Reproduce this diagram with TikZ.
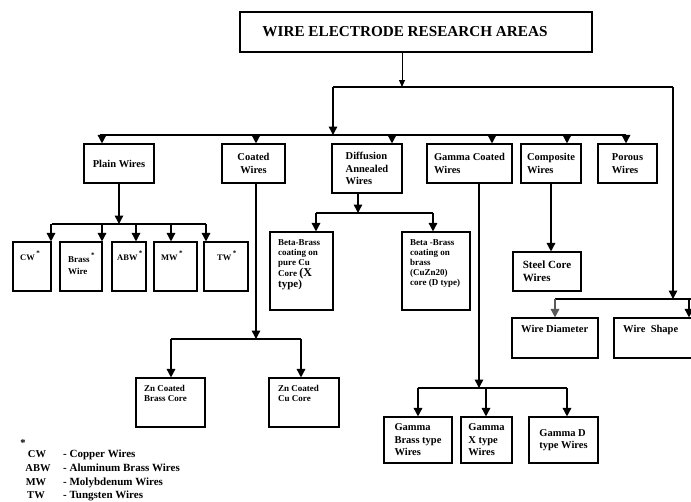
\documentclass[tikz,border=0pt]{standalone}
\usepackage{fontspec}
\setmainfont{Liberation Serif}
\usetikzlibrary{arrows.meta}
\definecolor{arrow-grey}{HTML}{5A5A5A}

\newcommand{\wstar}{\smash{\raisebox{5pt}{\fontsize{7}{7}\selectfont *}}}

\begin{document}
\begin{tikzpicture}[x=1pt, y=-1pt,
    box/.style={draw, line width=1.1pt, align=left, inner sep=0pt, font=\bfseries\fontsize{10.5}{12.5}\selectfont},
    txt/.style={anchor=north west, inner sep=0pt, align=left, font=\bfseries\fontsize{9}{10}\selectfont},
    key/.style={anchor=base, inner sep=0pt, font=\bfseries\fontsize{10.5}{12}\selectfont},
    conn/.style={line width=1.5pt},
    arr/.style={line width=1.5pt, -{Triangle[width=8.5pt,length=8.5pt]}}]
    \useasboundingbox (0,0) rectangle (691,501);

    % top
    \node[box, minimum width=352pt, minimum height=40pt, font=\bfseries\fontsize{15.2}{17}\selectfont] (areas) at (416,32) {WIRE ELECTRODE RESEARCH AREAS\hspace*{22pt}};

    % wire types
    \node[box, minimum width=70pt, minimum height=39pt] (plain) at (119,163.5) {Plain Wires};
    \node[box, minimum width=63pt, minimum height=39pt, align=center] (coated) at (253.5,163.5) {Coated\\Wires};
    \node[box, minimum width=70pt, minimum height=49pt] (diffusion) at (367,168.5) {Diffusion\\Annealed\\Wires};
    \node[box, minimum width=85pt, minimum height=39pt] (gamma) at (469.5,163.5) {Gamma Coated\\Wires};
    \node[box, minimum width=60pt, minimum height=39pt] (composite) at (551,163.5) {Composite\\Wires};
    \node[box, minimum width=59pt, minimum height=39pt] (porous) at (627.5,163.5) {Porous\\Wires};

    % plain wires
    \node[box, minimum width=38pt, minimum height=49pt] (cw) at (32,266.5) {};
    \node[box, minimum width=42pt, minimum height=49pt] (brass) at (81,266.5) {};
    \node[box, minimum width=34pt, minimum height=49pt] (abw) at (129,266.5) {};
    \node[box, minimum width=43pt, minimum height=49pt] (mw) at (175.5,266.5) {};
    \node[box, minimum width=44pt, minimum height=49pt] (tw) at (226,266.5) {};
    \node[txt, font=\bfseries\fontsize{8.5}{10}\selectfont] (cwtext) at (20,255) {CW\,\wstar};
    \node[txt, font=\bfseries\fontsize{9}{12}\selectfont] (brasstext) at (68,256) {Brass\,\wstar\\Wire};
    \node[txt, font=\bfseries\fontsize{8.5}{10}\selectfont] (abwtext) at (117,255) {ABW\,\wstar};
    \node[txt, font=\bfseries\fontsize{8.5}{10}\selectfont] (mwtext) at (161,255) {MW\,\wstar};
    \node[txt, font=\bfseries\fontsize{8.5}{10}\selectfont] (twtext) at (217,255) {TW\,\wstar};

    % diffusion annealed
    \node[box, minimum width=63pt, minimum height=78pt] (betax) at (301.5,271) {};
    \node[box, minimum width=68pt, minimum height=78pt] (betad) at (436,271) {};
    \node[txt] (betaxtext) at (278,239) {Beta-Brass\\coating on\\pure Cu\\Core {\fontsize{12}{12}\selectfont(X}\\{\fontsize{11}{12}\selectfont type)}};
    \node[txt] (betadtext) at (410,239) {Beta -Brass\\coating on\\brass\\(CuZn20)\\core (D type)};

    % coated
    \node[box, minimum width=69pt, minimum height=49pt] (znbrass) at (170.5,402.5) {};
    \node[box, minimum width=70pt, minimum height=49pt] (zncu) at (304,402.5) {};
    \node[txt] (znbrasstext) at (144,385) {Zn Coated\\Brass Core};
    \node[txt] (zncutext) at (278,385) {Zn Coated\\Cu Core};

    % composite
    \node[box, minimum width=68pt, minimum height=39pt, font=\bfseries\fontsize{11}{13}\selectfont] (steel) at (547,271.5) {Steel Core\\Wires};

    % size and shape
    \node[box, minimum width=86pt, minimum height=40pt] (diameter) at (555,338) {};
    \node[box, minimum width=96pt, minimum height=40pt] (shape) at (662,338) {};
    \node[txt, font=\bfseries\fontsize{10.5}{12}\selectfont] (diametertext) at (521,325.5) {Wire Diameter};
    \node[txt, font=\bfseries\fontsize{10.5}{12}\selectfont] (shapetext) at (623,325.5) {Wire~~Shape};

    % gamma
    \node[box, minimum width=68pt, minimum height=46pt] (gbrass) at (418,440) {Gamma\\Brass type\\Wires};
    \node[box, minimum width=51pt, minimum height=46pt] (gx) at (486.5,440) {Gamma\\X type\\Wires};
    \node[box, minimum width=69pt, minimum height=46pt] (gd) at (563.5,440) {Gamma D\\type Wires};

    % connectors
    \coordinate (top) at (402,87);
    \coordinate (topL) at (333,87);
    \coordinate (topR) at (673,87);
    \draw[line width=1pt, -{Triangle[width=6pt,length=7pt]}] (areas.south -| top) -- (top);
    \draw[conn] (topL) -- (topR);
    \draw[arr] (topL) -- (333,135);
    \draw[conn] (100,135) -- (626,135);
    \foreach \n/\x in {plain/102, coated/256, diffusion/392, gamma/492, composite/567, porous/626}
      \draw[arr] (\x,135) -- (\n.north -| \x,0);

    \draw[arr] (plain.south) -- (119,224);
    \draw[conn] (cw.east |- 0,224) -- (206,224);
    \foreach \n/\x in {cw/51, brass/102, abw/136, mw/171, tw/206}
      \draw[arr] (\x,224) -- (\n.north -| \x,0);

    \draw[arr] (diffusion.south -| 358,0) -- (358,213);
    \draw[conn] (316,213) -- (433,213);
    \draw[arr] (316,213) -- (betax.north -| 316,0);
    \draw[arr] (433,213) -- (betad.north -| 433,0);

    \draw[arr] (coated.south -| 256,0) -- (256,339);
    \draw[conn] (171,339) -- (301,339);
    \draw[arr] (171,339) -- (znbrass.north -| 171,0);
    \draw[arr] (301,339) -- (zncu.north -| 301,0);

    \draw[arr] (gamma.south -| 479,0) -- (479,388);
    \draw[conn] (418,388) -- (567,388);
    \foreach \n/\x in {gbrass/418, gx/486, gd/567}
      \draw[arr] (\x,388) -- (\n.north -| \x,0);

    \draw[arr] (composite.south) -- (steel.north -| composite.south);

    \draw[arr] (topR) -- (673,299);
    \draw[conn] (555,299) -- (700,299);
    \draw[arr, arrow-grey] (555,299) -- (diameter.north);
    \draw[arr] (689,299) -- (shape.north -| 689,0);

    % legend
    \node[key] (keystar) at (23,446) {*};
    \node[key] (keycw) at (37,457) {CW};
    \node[key] (keyabw) at (38,471) {ABW};
    \node[key] (keymw) at (36,485) {MW};
    \node[key] (keytw) at (36,498) {TW};
    \node[key, anchor=base west, font=\bfseries\fontsize{11}{12}\selectfont] (keycwtext) at (63,457) {- Copper Wires};
    \node[key, anchor=base west, font=\bfseries\fontsize{11}{12}\selectfont] (keyabwtext) at (63,471) {- Aluminum Brass Wires};
    \node[key, anchor=base west, font=\bfseries\fontsize{11}{12}\selectfont] (keymwtext) at (63,485) {- Molybdenum Wires};
    \node[key, anchor=base west, font=\bfseries\fontsize{11}{12}\selectfont] (keytwtext) at (63,498) {- Tungsten Wires};
  \end{tikzpicture}
\end{document}
